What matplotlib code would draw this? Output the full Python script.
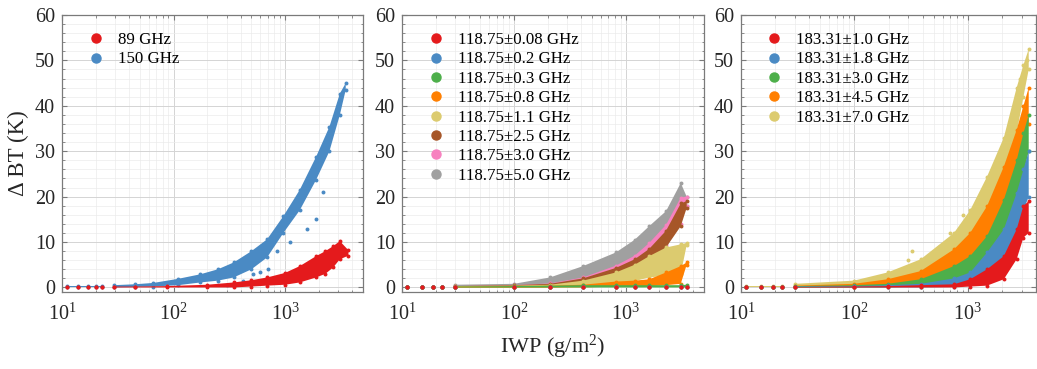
import numpy as np
import matplotlib
matplotlib.use("Agg")
import matplotlib.pyplot as plt
from matplotlib.ticker import LogLocator, MultipleLocator

plt.rcParams['font.family'] = ['Liberation Serif', 'DejaVu Serif']
plt.rcParams['mathtext.fontset'] = 'custom'
plt.rcParams['mathtext.rm'] = 'Liberation Serif'
plt.rcParams['mathtext.it'] = 'Liberation Serif:italic'

nan = np.nan

# ---- panel 1: window channels (band edges) ----
p1_labels = ["89 GHz", "150 GHz"]
p1_colors = ["#e41a1c", "#4a8ac4"]
iwp_89 = [11, 14, 17, 20, 23, nan, 29, 45, 87, 200, 346, 500, 690, 1000, 1355, 1900, 2300, 2700, 3100, 3700]
lo_89 = [0.0, 0.0, 0.0, 0.0, 0.0, nan, 0.0, 0.0, 0.0, 0.0, 0.0, 0.2, 0.4, 0.6, 1.1, 2.2, 3.0, 4.4, 6.2, 7.0]
hi_89 = [0.2, 0.2, 0.2, 0.2, 0.2, nan, 0.2, 0.2, 0.3, 0.6, 1.1, 1.6, 2.2, 3.2, 4.7, 6.9, 8.0, 9.1, 10.2, 8.2]
iwp_150 = [11, 14, 17, 20, 23, nan, 29, 45, 66, 110, 174, 250, 346, 500, 690, 966, 1355, 1900, 2500, 3100, 3500]
lo_150 = [0.0, 0.0, 0.0, 0.0, 0.0, nan, 0.0, 0.1, 0.2, 0.5, 1.1, 1.5, 2.2, 4.0, 6.6, 12.0, 17.0, 23.7, 30.0, 38.0, 43.5]
hi_150 = [0.3, 0.3, 0.3, 0.3, 0.3, nan, 0.5, 0.7, 1.0, 1.9, 2.9, 4.0, 5.5, 8.0, 10.6, 15.7, 21.5, 28.8, 35.4, 42.7, 45.0]
out_150_x = [300, 420, 520, 600, 700, 850, 1100, 1560, 1900, 2200]
out_150_y = [0.6, 1.5, 3.0, 3.5, 4.0, 8.0, 10.0, 12.8, 15.0, 21.0]

# ---- panel 2: 118.75 GHz channels ----
p2_labels = ["118.75±0.08 GHz", "118.75±0.2 GHz", "118.75±0.3 GHz", "118.75±0.8 GHz",
             "118.75±1.1 GHz", "118.75±2.5 GHz", "118.75±3.0 GHz", "118.75±5.0 GHz"]
p2_colors = ["#e41a1c", "#4a8ac4", "#4daf4a", "#ff7f00",
             "#dccb6f", "#a65628", "#f781bf", "#a0a0a0"]
iwp_118 = [11, 15, 19, 23, nan, 30, 100, 210, 415, 815, 1200, 1620, 2290, 3100, 3500]
lo_118 = [
    [0.0, 0.0, 0.0, 0.0, nan, 0.0, 0.0, 0.0, 0.0, 0.0, 0.0, 0.0, 0.0, 0.0, 0.0],
    [0.0, 0.0, 0.0, 0.0, nan, 0.0, 0.0, 0.0, 0.0, 0.0, 0.0, 0.0, 0.0, 0.0, 0.0],
    [0.0, 0.0, 0.0, 0.0, nan, 0.0, 0.0, 0.0, 0.0, 0.0, 0.0, 0.0, 0.0, 0.0, 0.0],
    [0.0, 0.0, 0.0, 0.0, nan, 0.0, 0.0, 0.0, 0.0, 0.2, 0.25, 0.3, 0.5, 0.8, 5.0],
    [0.0, 0.0, 0.0, 0.0, nan, 0.0, 0.0, 0.0, 0.2, 0.7, 1.4, 2.2, 2.6, 3.0, 9.3],
    [0.0, 0.0, 0.0, 0.0, nan, 0.0, 0.0, 0.0, 0.3, 2.3, 3.8, 5.8, 8.8, 13.5, 17.5],
    [0.0, 0.0, 0.0, 0.0, nan, 0.0, 0.0, 0.0, 0.4, 2.5, 4.2, 6.2, 9.3, 14.0, 18.0],
    [0.0, 0.0, 0.0, 0.0, nan, 0.0, 0.0, 0.2, 0.7, 2.5, 4.5, 6.6, 9.9, 16.4, 18.0],
]
hi_118 = [
    [0.1, 0.1, 0.1, 0.1, nan, 0.1, 0.1, 0.1, 0.1, 0.1, 0.1, 0.1, 0.1, 0.1, 0.1],
    [0.2, 0.2, 0.2, 0.2, nan, 0.2, 0.2, 0.2, 0.2, 0.2, 0.2, 0.2, 0.2, 0.2, 0.2],
    [0.1, 0.1, 0.1, 0.1, nan, 0.2, 0.3, 0.4, 0.5, 0.5, 0.5, 0.5, 0.5, 0.5, 0.6],
    [0.1, 0.1, 0.1, 0.1, nan, 0.2, 0.3, 0.4, 0.6, 1.3, 1.5, 1.8, 3.3, 4.7, 5.5],
    [0.1, 0.1, 0.1, 0.1, nan, 0.3, 0.4, 0.6, 1.5, 3.3, 5.0, 6.9, 8.8, 9.5, 9.8],
    [0.1, 0.1, 0.1, 0.1, nan, 0.3, 0.5, 0.8, 2.0, 4.3, 6.2, 8.5, 12.5, 18.5, 19.0],
    [0.1, 0.1, 0.1, 0.1, nan, 0.3, 0.5, 0.9, 2.2, 4.8, 7.0, 9.8, 13.8, 19.8, 20.0],
    [0.2, 0.2, 0.2, 0.2, nan, 0.6, 0.8, 2.2, 4.7, 7.7, 10.5, 13.5, 16.8, 23.0, 20.0],
]

# ---- panel 3: 183.31 GHz channels ----
p3_labels = ["183.31±1.0 GHz", "183.31±1.8 GHz", "183.31±3.0 GHz",
             "183.31±4.5 GHz", "183.31±7.0 GHz"]
p3_colors = ["#e41a1c", "#4a8ac4", "#4daf4a", "#ff7f00", "#dccb6f"]
iwp_183 = [11, 15, 19, 23, nan, 30, 99, 196, 384, 756, 1050, 1480, 2080, 2700, 3100, 3450]
lo_183 = [
    [0.0, 0.0, 0.0, 0.0, nan, 0.0, 0.0, 0.0, 0.0, 0.0, 0.2, 0.4, 1.8, 6.2, 11.0, 12.0],
    [0.0, 0.0, 0.0, 0.0, nan, 0.0, 0.0, 0.0, 0.0, 0.1, 0.7, 2.2, 4.7, 10.6, 17.0, 20.0],
    [0.0, 0.0, 0.0, 0.0, nan, 0.0, 0.0, 0.0, 0.2, 1.1, 1.8, 4.4, 9.1, 17.9, 25.0, 30.0],
    [0.0, 0.0, 0.0, 0.0, nan, 0.0, 0.0, 0.3, 0.7, 2.2, 4.7, 9.1, 15.7, 25.0, 32.0, 36.0],
    [0.0, 0.0, 0.0, 0.0, nan, 0.0, 0.2, 1.0, 2.5, 6.2, 9.1, 15.0, 22.0, 34.0, 42.0, 48.0],
]
hi_183 = [
    [0.1, 0.1, 0.1, 0.1, nan, 0.1, 0.2, 0.3, 0.5, 0.7, 1.8, 4.0, 6.9, 12.8, 18.0, 19.0],
    [0.1, 0.1, 0.1, 0.1, nan, 0.2, 0.3, 0.5, 0.8, 2.0, 3.3, 7.7, 12.8, 20.8, 26.0, 30.0],
    [0.2, 0.2, 0.2, 0.2, nan, 0.3, 0.5, 0.8, 1.8, 4.7, 6.9, 11.3, 19.3, 28.0, 34.0, 38.0],
    [0.2, 0.2, 0.2, 0.2, nan, 0.4, 0.8, 1.8, 3.6, 8.4, 12.0, 17.9, 26.6, 34.7, 40.0, 44.0],
    [0.3, 0.3, 0.3, 0.3, nan, 0.8, 1.5, 3.3, 6.2, 12.0, 17.0, 24.4, 33.0, 44.0, 49.0, 52.5],
]
out_183_x = [300, 320, 450, 560, 700, 900, 2900, 3300]
out_183_y = [6.0, 8.0, 5.5, 9.0, 12.0, 16.0, 46.0, 50.0]


def draw_band(ax, x, lo, hi, color):
    x = np.asarray(x, float)
    lo = np.asarray(lo, float)
    hi = np.asarray(hi, float)
    ax.fill_between(x, lo, hi, color=color, lw=0, zorder=2)
    ax.scatter(x, lo, s=8, color=color, lw=0, zorder=2)
    ax.scatter(x, hi, s=8, color=color, lw=0, zorder=2)


def style_axis(ax, xmax):
    ax.set_xscale("log")
    ax.set_xlim(10, xmax)
    ax.set_ylim(-1, 60)
    ax.yaxis.set_major_locator(MultipleLocator(10))
    ax.yaxis.set_minor_locator(MultipleLocator(2))
    ax.xaxis.set_major_locator(LogLocator(base=10, numticks=10))
    ax.xaxis.set_minor_locator(LogLocator(base=10, subs=np.arange(2, 10), numticks=10))
    ax.grid(which="major", color="#d4d4d4", lw=0.7, zorder=0)
    ax.grid(which="minor", color="#ebebeb", lw=0.5, zorder=0)
    ax.set_axisbelow(True)
    for s in ax.spines.values():
        s.set_color("#7a7a7a")
        s.set_linewidth(0.9)
    ax.tick_params(which="both", direction="in", top=True, right=True,
                   colors="#7a7a7a", labelcolor="#262626", labelsize=14.5)
    ax.tick_params(which="major", length=3.5)
    ax.tick_params(which="minor", length=1.8)
    ax.tick_params(axis="x", pad=8)
    ax.tick_params(axis="y", pad=5)


def add_legend(ax, labels, colors):
    handles = [plt.Line2D([], [], ls="", marker="o", ms=6.5, color=c) for c in colors]
    ax.legend(handles, labels, loc="upper left", frameon=False, fontsize=12.2,
              bbox_to_anchor=(0.05, 0.975), handletextpad=0.8, labelspacing=0.2,
              handlelength=1.0, borderaxespad=0.2)


fig = plt.figure(figsize=(10.37, 3.69), dpi=100)
W, H = 1037.0, 369.0
bottom = 1 - 292 / H
height = (292 - 15) / H
ax1 = fig.add_axes([62 / W, bottom, 301 / W, height])
ax2 = fig.add_axes([402 / W, bottom, 302 / W, height])
ax3 = fig.add_axes([741 / W, bottom, 295 / W, height])

# panel 1
draw_band(ax1, iwp_150, lo_150, hi_150, p1_colors[1])
ax1.scatter(out_150_x, out_150_y, s=8, color=p1_colors[1], lw=0, zorder=2)
draw_band(ax1, iwp_89, lo_89, hi_89, p1_colors[0])
style_axis(ax1, 5000)
add_legend(ax1, p1_labels, p1_colors)
ax1.set_ylabel("Δ BT (K)", fontsize=16.5, labelpad=4, color="#262626")

# panel 2
for i in reversed(range(len(p2_labels))):
    draw_band(ax2, iwp_118, lo_118[i], hi_118[i], p2_colors[i])
style_axis(ax2, 5000)
add_legend(ax2, p2_labels, p2_colors)
ax2.set_xlabel("IWP (g/m$^2$)", fontsize=16, labelpad=6, color="#262626")

# panel 3
ax3.scatter(out_183_x, out_183_y, s=8, color=p3_colors[4], lw=0, zorder=2)
for i in reversed(range(len(p3_labels))):
    draw_band(ax3, iwp_183, lo_183[i], hi_183[i], p3_colors[i])
style_axis(ax3, 4000)
add_legend(ax3, p3_labels, p3_colors)

fig.savefig("out.png", dpi=100)
